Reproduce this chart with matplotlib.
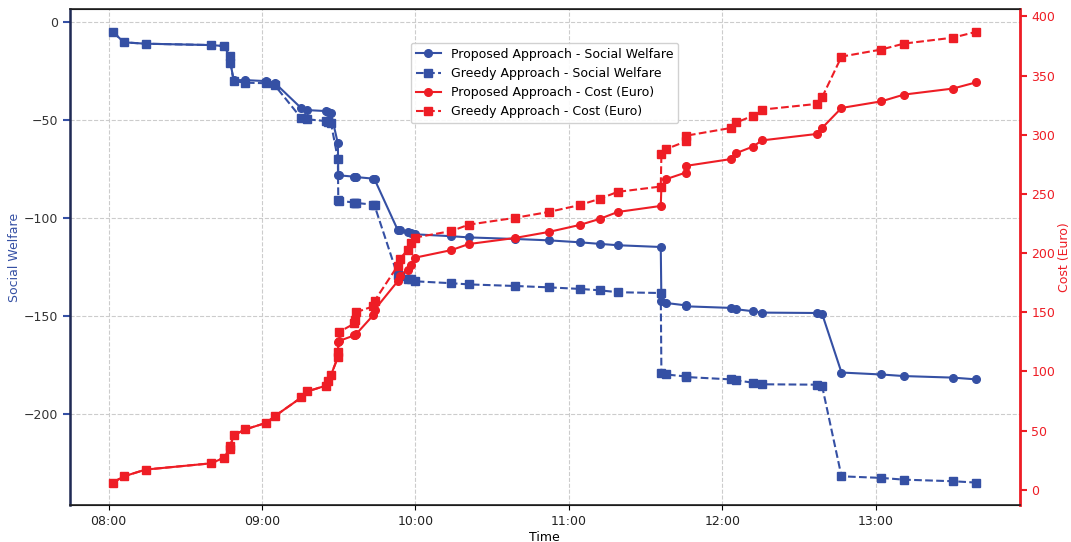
import pandas as pd
import matplotlib
matplotlib.use("Agg")
import matplotlib.pyplot as plt
import matplotlib.dates as mdates

# event times (shared by all four series)
times = [
    "08:01:40", "08:06:00", "08:14:30", "08:40:10", "08:45:05", "08:47:20", "08:47:40",
    "08:48:55", "08:53:30", "09:01:40", "09:04:55", "09:15:25", "09:17:40", "09:25:05",
    "09:26:00", "09:27:00", "09:29:40", "09:29:50", "09:29:55", "09:36:10", "09:36:30",
    "09:36:50", "09:43:30", "09:44:00", "09:53:00", "09:53:50", "09:56:55", "09:58:05",
    "09:59:40", "10:14:05", "10:20:50", "10:38:50", "10:52:05", "11:04:10", "11:12:00",
    "11:19:05", "11:35:55", "11:36:10", "11:38:05", "11:45:40", "11:45:55", "12:03:20",
    "12:05:30", "12:12:00", "12:15:30", "12:36:50", "12:39:00", "12:46:35", "13:02:10",
    "13:11:00", "13:30:10", "13:39:20",
]

proposed_sw = [
    -5, -10.4, -11.1, -11.8, -12.3, -17.4, -20.8,
    -29.7, -29.7, -30.2, -31, -44.1, -45, -45.5,
    -46, -46.7, -62, -78, -78.3, -79, -79.1,
    -79.2, -80, -80.3, -106, -106.3, -107.2, -107.6,
    -108.4, -109.4, -110, -110.8, -111.5, -112.5, -113.3,
    -114, -114.9, -142.6, -143.5, -144.7, -145.2, -146,
    -146.7, -147.7, -148.4, -148.6, -149, -179, -180,
    -180.8, -181.6, -182.5,
]

greedy_sw = [
    -5, -10.4, -11.1, -11.8, -12.3, -17.4, -20.8,
    -30.2, -31, -31.3, -32.2, -49.2, -49.7, -50.6,
    -51.1, -51.8, -70, -91, -91.3, -92.2, -92.3,
    -92.4, -93.3, -93.7, -129.3, -129.6, -131, -131.4,
    -132.4, -133.4, -134, -134.8, -135.5, -136.3, -137,
    -138, -138.4, -179.3, -180, -181, -181.3, -182.5,
    -183, -184.2, -185, -185.2, -185.9, -232, -232.8,
    -233.7, -234.5, -235.2,
]

proposed_cost = [
    6, 11.3, 17, 22.3, 27, 34.5, 37.3,
    46, 51, 56.5, 62, 78, 83, 88,
    92, 97, 112, 125, 125.5, 130.5, 131,
    131.5, 147.5, 152, 176, 181, 186, 190,
    196, 202.5, 207.6, 212.7, 217.8, 223.7, 228.8,
    234.7, 239.8, 256.2, 262.5, 268, 273.7, 279.4,
    284.5, 290, 295.2, 300.6, 305.7, 322.6, 328.2,
    333.9, 339, 344.3,
]

greedy_cost = [
    6, 11.3, 17, 22.3, 27, 34.5, 37.3,
    46, 51, 56.5, 62, 78, 83, 88,
    92, 97, 112, 116, 133, 140.5, 143,
    150, 155, 159.5, 189, 195, 202.5, 208.5,
    213, 218.6, 224, 229.7, 234.7, 240.5, 245.8,
    251.7, 256.2, 283.6, 287.9, 294.3, 299.2, 305.7,
    310.4, 316, 321.2, 326, 331.6, 366, 372,
    377, 382, 387,
]

BLUE = "#3550a4"
RED = "#ee1d25"

t = pd.to_datetime(["2024-01-01 " + s for s in times])

fig = plt.figure(figsize=(10.71, 5.42), dpi=100)
ax1 = fig.add_axes([0.065, 0.068, 0.887, 0.915])
ax2 = ax1.twinx()

l1, = ax1.plot(t, proposed_sw, "-o", color=BLUE, lw=1.5, ms=5.5,
               label="Proposed Approach - Social Welfare")
l2, = ax1.plot(t, greedy_sw, "--s", color=BLUE, lw=1.5, ms=5.5,
               label="Greedy Approach - Social Welfare")
l3, = ax2.plot(t, proposed_cost, "-o", color=RED, lw=1.5, ms=5.5,
               label="Proposed Approach - Cost (Euro)")
l4, = ax2.plot(t, greedy_cost, "--s", color=RED, lw=1.5, ms=5.5,
               label="Greedy Approach - Cost (Euro)")

ax1.set_xlabel("Time", fontsize=9, labelpad=2)
ax1.set_ylabel("Social Welfare", color=BLUE, fontsize=9, labelpad=2)
ax2.set_ylabel("Cost (Euro)", color=RED, fontsize=9, labelpad=2)

ax1.xaxis.set_major_locator(mdates.HourLocator())
ax1.xaxis.set_major_formatter(mdates.DateFormatter("%H:%M"))

ax1.tick_params(axis="y", colors=BLUE, labelcolor="#333333", width=1.5, length=5, labelsize=9)
ax1.tick_params(axis="x", labelsize=9, labelcolor="#222222")
ax2.tick_params(axis="y", colors=RED, labelcolor=RED, width=1.5, length=5, labelsize=9)

ax1.grid(True, linestyle="--", color="#cccccc", linewidth=0.8)
ax1.set_axisbelow(True)

ax2.spines["right"].set_color(RED)
ax2.spines["right"].set_linewidth(2)
ax2.spines["left"].set_color("#1f2a55")
ax2.spines["left"].set_linewidth(1.8)
for s in ("top", "bottom"):
    ax2.spines[s].set_color("#222222")
    ax2.spines[s].set_linewidth(1.2)

ax1.legend(handles=[l1, l2, l3, l4], loc="upper center", bbox_to_anchor=(0.5, 0.945),
           fontsize=9, framealpha=0.9, handlelength=2)

fig.savefig("out.png", dpi=100)
